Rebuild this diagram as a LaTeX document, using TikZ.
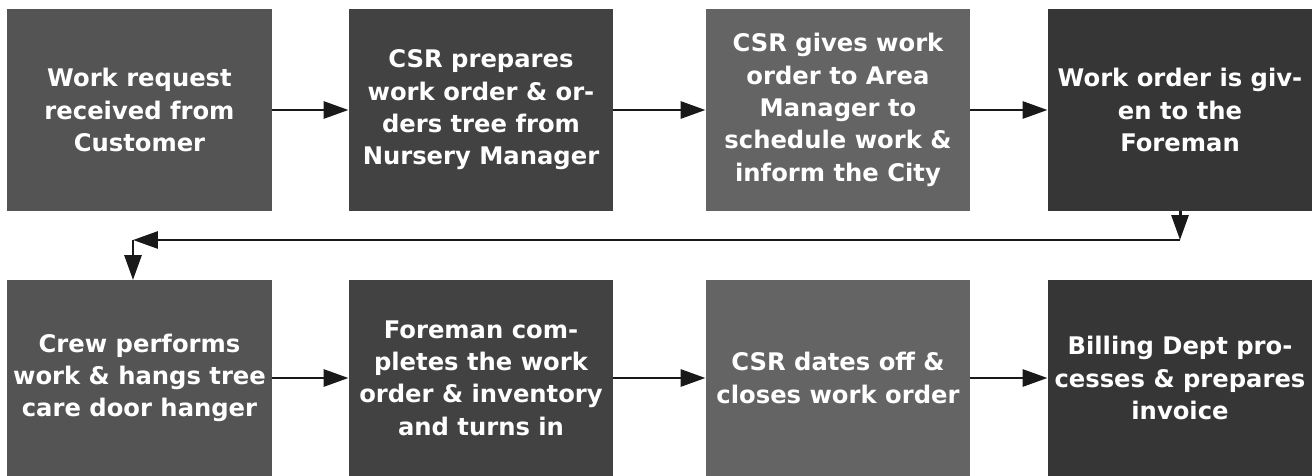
\documentclass[tikz,border=0pt]{standalone}
\usepackage{fontspec}
\setmainfont{DejaVu Sans}
\usepackage{tikz}
\usetikzlibrary{arrows.meta,positioning}
\usepackage{xcolor}
\definecolor{stepmid}{RGB}{84,84,84}
\definecolor{stepdark}{RGB}{66,66,66}
\definecolor{steplight}{RGB}{100,100,100}
\definecolor{stepdeep}{RGB}{54,54,54}
\tikzset{
  stepbox/.style={rectangle,draw=none,text=white,align=center,inner sep=0pt,
                  outer sep=0pt,minimum width=5.3cm,minimum height=4.06cm,
                  font=\fontsize{13.8}{18.4}\selectfont\bfseries},
  lowbox/.style={stepbox,minimum height=3.92cm},
  flow/.style={-{Triangle[length=0.5cm,width=0.34cm]},draw=black!90,line width=1.7pt},
}
\begin{document}
\begin{tikzpicture}[x=0.02cm,y=-0.02cm]
  \useasboundingbox (0,0) rectangle (1312,476);
  % first row
  \node[stepbox,fill=stepmid] (req) at (139.5,110)
    {Work request\\received from\\Customer};
  \node[stepbox,fill=stepdark] (prep) at (481,110)
    {CSR prepares\\work order \& or-\\ders tree from\\Nursery Manager};
  \node[stepbox,fill=steplight] (area) at (838,110)
    {CSR gives work\\order to Area\\Manager to\\schedule work \&\\inform the City};
  \node[stepbox,fill=stepdeep] (fore) at (1180,110)
    {Work order is giv-\\en to the\\Foreman};
  % second row
  \node[lowbox,fill=stepmid] (crew) at (139.5,378)
    {Crew performs\\work \& hangs tree\\care door hanger};
  \node[lowbox,fill=stepdark] (comp) at (481,378)
    {Foreman com-\\pletes the work\\order \& inventory\\and turns in};
  \node[lowbox,fill=steplight] (dates) at (838,378)
    {CSR dates off \&\\closes work order};
  \node[lowbox,fill=stepdeep] (bill) at (1180,378)
    {Billing Dept pro-\\cesses \& prepares\\invoice};
  \foreach \a/\b in {req/prep,prep/area,area/fore,crew/comp,comp/dates,dates/bill}
    \draw[flow] (\a.east) -- (\b.west);
  % back to the start of the second row
  \coordinate (turnR) at (fore.south |- 0,240);
  \coordinate (turnL) at (133,240);
  \draw[flow] (fore.south) -- (turnR);
  \draw[flow] (turnR) -- (turnL);
  \draw[flow] (turnL) -- (turnL |- crew.north);
\end{tikzpicture}
\end{document}
